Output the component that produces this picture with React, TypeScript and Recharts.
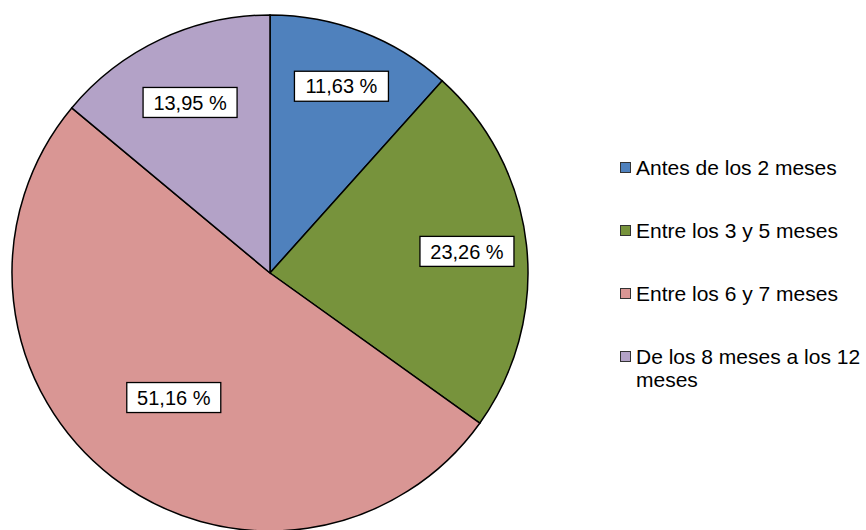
import React from 'react';
import { PieChart, Pie, Cell, Legend } from 'recharts';

const categories = [
  'Antes de los 2 meses',
  'Entre los 3 y 5 meses',
  'Entre los 6 y 7 meses',
  'De los 8 meses a los 12 meses',
];
const values = [11.63, 23.26, 51.16, 13.95];
const labels = ['11,63 %', '23,26 %', '51,16 %', '13,95 %'];

const colors = ['#4F81BD', '#77933C', '#D99694', '#B3A2C7'];
// how far out from the centre each value box sits (fraction of the radius)
const labelRadius = [0.775, 0.768, 0.61, 0.73];

const data = categories.map((name, i) => ({ name, value: values[i] }));

const FONT = '"Liberation Sans", Arial, sans-serif';
const RAD = Math.PI / 180;

const renderLabel = (props: any) => {
  const { cx, cy, midAngle, outerRadius, index } = props;
  const r = outerRadius * labelRadius[index];
  const x = cx + r * Math.cos(-midAngle * RAD);
  const y = cy + r * Math.sin(-midAngle * RAD);
  const w = 94;
  const h = 30;
  return (
    <g>
      <rect x={x - w / 2} y={y - h / 2} width={w} height={h} fill="#fff" stroke="#000" strokeWidth={1.3} />
      <text x={x} y={y} dy="0.36em" textAnchor="middle" fontSize={20} fontFamily={FONT} fill="#000">
        {labels[index]}
      </text>
    </g>
  );
};

const renderLegend = () => (
  <div style={{ position: 'relative', width: 246, height: 240 }}>
    {categories.map((c, i) => (
      <div
        key={c}
        style={{
          position: 'absolute',
          left: 0,
          top: i * 63,
          display: 'flex',
          alignItems: 'flex-start',
          fontFamily: FONT,
          fontSize: 21,
          lineHeight: '23px',
          color: '#000',
        }}
      >
        <span
          style={{
            display: 'inline-block',
            width: 9,
            height: 9,
            marginTop: 6,
            marginRight: 5,
            background: colors[i],
            border: '1px solid #333',
            flexShrink: 0,
          }}
        />
        <span style={{ width: 230 }}>{c}</span>
      </div>
    ))}
  </div>
);

export default function App() {
  return (
    <div style={{ position: 'absolute', left: 0, top: 0, width: 866, height: 530, background: '#fff', overflow: 'hidden' }}>
      <PieChart width={866} height={530} margin={{ top: 0, right: 0, bottom: 0, left: 0 }}>
        <Pie
          data={data}
          dataKey="value"
          nameKey="name"
          cx={270}
          cy={273}
          outerRadius={258}
          startAngle={90}
          endAngle={-270}
          stroke="#000"
          strokeWidth={1.5}
          label={renderLabel}
          labelLine={false}
          isAnimationActive={false}
        >
          {data.map((d, i) => (
            <Cell key={d.name} fill={colors[i]} />
          ))}
        </Pie>
        <Legend content={renderLegend} wrapperStyle={{ position: 'absolute', left: 620, top: 156, width: 246 }} />
      </PieChart>
    </div>
  );
}
